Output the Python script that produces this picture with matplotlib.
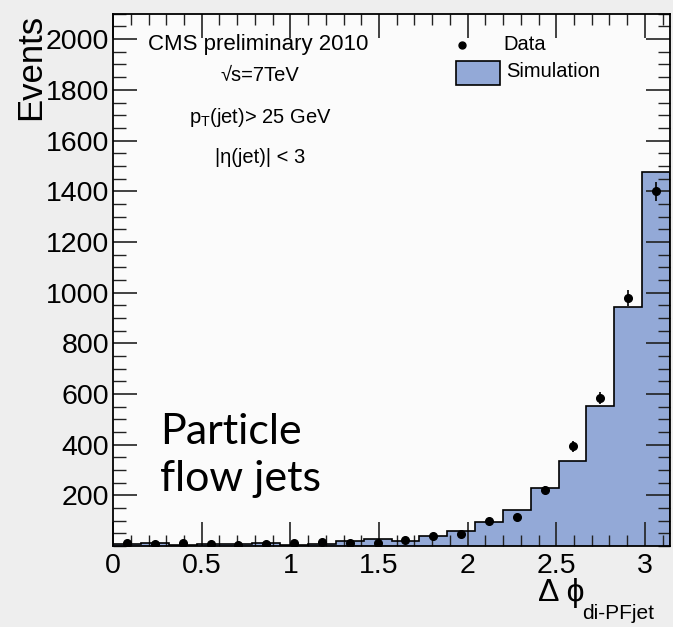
"""
Delta phi between the two leading particle flow jets, CMS preliminary 2010.
Data points against the simulation histogram.
"""

import numpy as np
import matplotlib.pyplot as plt
from matplotlib.patches import Rectangle
from matplotlib.ticker import MultipleLocator

plt.rcParams["font.family"] = ["Liberation Sans", "DejaVu Sans"]

# 20 bins from 0 to pi
bin_edges = np.linspace(0, np.pi, 21)
bin_centers = 0.5 * (bin_edges[:-1] + bin_edges[1:])

# simulation histogram contents
sim_counts = [8, 14, 4, 8, 10, 12, 6, 7, 22, 29,
              20, 39, 60, 94, 141, 229, 337, 552, 945, 1475]

# data counts (errors are sqrt(N))
data_counts = [12, 8, 11, 10, 5, 10, 13, 15, 14, 12,
               24, 38, 48, 100, 114, 223, 393, 585, 980, 1400]

fig = plt.figure(figsize=(6.73, 6.27), dpi=100, facecolor="#eeeeee")
ax = fig.add_axes([0.168, 0.129, 0.8275, 0.849])
ax.set_facecolor("#fbfbfb")

# simulation as filled step histogram
ax.stairs(sim_counts, bin_edges, fill=True, color="#93a9d7", zorder=1)
ax.stairs(sim_counts, bin_edges, color="black", linewidth=1.2, zorder=2)

# data points
data = np.array(data_counts, dtype=float)
ax.errorbar(bin_centers, data, yerr=np.sqrt(data), fmt="o", color="black",
            markersize=5.5, elinewidth=1.2, capsize=0, zorder=3)

ax.set_xlim(0, np.pi)
ax.set_ylim(0, 2100)

ax.xaxis.set_minor_locator(MultipleLocator(0.1))
ax.yaxis.set_minor_locator(MultipleLocator(50))
ax.set_xticks([0, 0.5, 1, 1.5, 2, 2.5, 3])
ax.set_xticklabels(["0", "0.5", "1", "1.5", "2", "2.5", "3"])
ax.set_yticks(range(200, 2001, 200))
ax.tick_params(which="both", direction="in", top=True, right=True,
               labelsize=20.5, color="#222222")
ax.tick_params(axis="x", which="major", length=17, width=1.2, pad=5)
ax.tick_params(axis="x", which="minor", length=8, width=1.0)
ax.tick_params(axis="y", which="major", length=17, width=1.2, pad=3)
ax.tick_params(axis="y", which="minor", length=9, width=1.0)
for s in ax.spines.values():
    s.set_linewidth(1.3)

# axis titles
fig.text(0.046, 0.978, "Events", rotation=90, fontsize=25,
         ha="center", va="top")
fig.text(0.800, 0.042, "Δ ϕ", fontsize=23, ha="left", va="baseline")
fig.text(0.865, 0.012, "di-PFjet", fontsize=15, ha="left", va="baseline")

# labels inside the frame
ax.text(0.063, 0.942, "CMS preliminary 2010", transform=ax.transAxes,
        fontsize=16, ha="left", va="center")
ax.text(0.264, 0.884, "√s=7TeV", transform=ax.transAxes,
        fontsize=14.5, ha="center", va="center")
ax.text(0.264, 0.806, "p$_{\\mathregular{T}}$(jet)> 25 GeV",
        transform=ax.transAxes, fontsize=14.5, ha="center", va="center")
ax.text(0.264, 0.730, "|η(jet)| < 3", transform=ax.transAxes,
        fontsize=14.5, ha="center", va="center")

# legend drawn by hand to match the ROOT layout
ax.plot([0.626], [0.942], "o", color="black", markersize=5,
        transform=ax.transAxes)
ax.text(0.70, 0.942, "Data", transform=ax.transAxes, fontsize=14.5,
        ha="left", va="center")
ax.add_patch(Rectangle((0.615, 0.866), 0.079, 0.046, transform=ax.transAxes,
                       facecolor="#93a9d7", edgecolor="black", linewidth=1.2))
ax.text(0.705, 0.891, "Simulation", transform=ax.transAxes, fontsize=14.5,
        ha="left", va="center")

# big annotation
ax.text(0.085, 0.17, "Particle\nflow jets", transform=ax.transAxes,
        fontsize=31, family=["Lato", "DejaVu Sans"], ha="left", va="center",
        linespacing=1.3)

plt.savefig("out.png", dpi=100, facecolor=fig.get_facecolor())
